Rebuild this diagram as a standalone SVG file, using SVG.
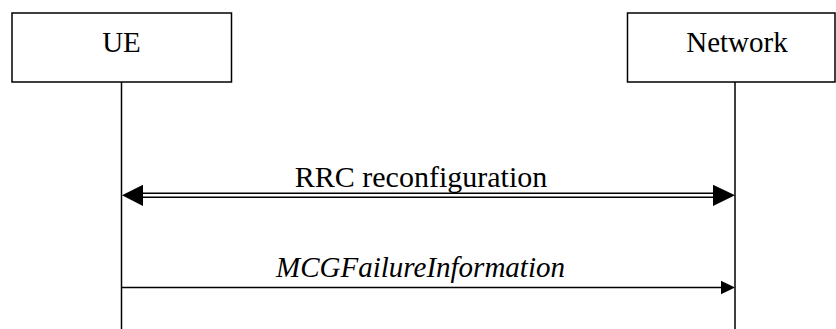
<svg xmlns="http://www.w3.org/2000/svg" width="836" height="329" viewBox="0 0 836 329">
<style>
.box{fill:#fff;stroke:#000;stroke-width:1.5}
.lbl{font-family:"Liberation Serif","Times New Roman",serif;font-size:29px;fill:#000;text-anchor:middle}
.ln{stroke:#000;stroke-width:1.5;fill:none}
.head{fill:#000}
</style>
<rect width="836" height="329" fill="#fff"/>
<g id="ue">
<rect class="box" x="12" y="13" width="219.5" height="69"/>
<text class="lbl" x="121.5" y="52">UE</text>
<line class="ln" x1="121.5" y1="82" x2="121.5" y2="329"/>
</g>
<g id="network">
<rect class="box" x="627.5" y="13" width="207.5" height="69"/>
<text class="lbl" x="737" y="52">Network</text>
<line class="ln" x1="735" y1="82" x2="735" y2="329"/>
</g>
<g id="connectors">
<line class="ln" x1="140" y1="193.3" x2="716" y2="193.3"/>
<line class="ln" x1="140" y1="197.3" x2="716" y2="197.3"/>
<polygon class="head" points="122,195.3 143,184.7 143,206"/>
<polygon class="head" points="735,195.3 713,184.7 713,206"/>
<text class="lbl" x="421" y="186.5" style="font-size:30px">RRC reconfiguration</text>
<line class="ln" x1="121.5" y1="287.5" x2="722" y2="287.5"/>
<polygon class="head" points="735,287.5 721,280.8 721,294.2"/>
<text class="lbl" x="420.5" y="276.5" font-style="italic">MCGFailureInformation</text>
</g>
</svg>
